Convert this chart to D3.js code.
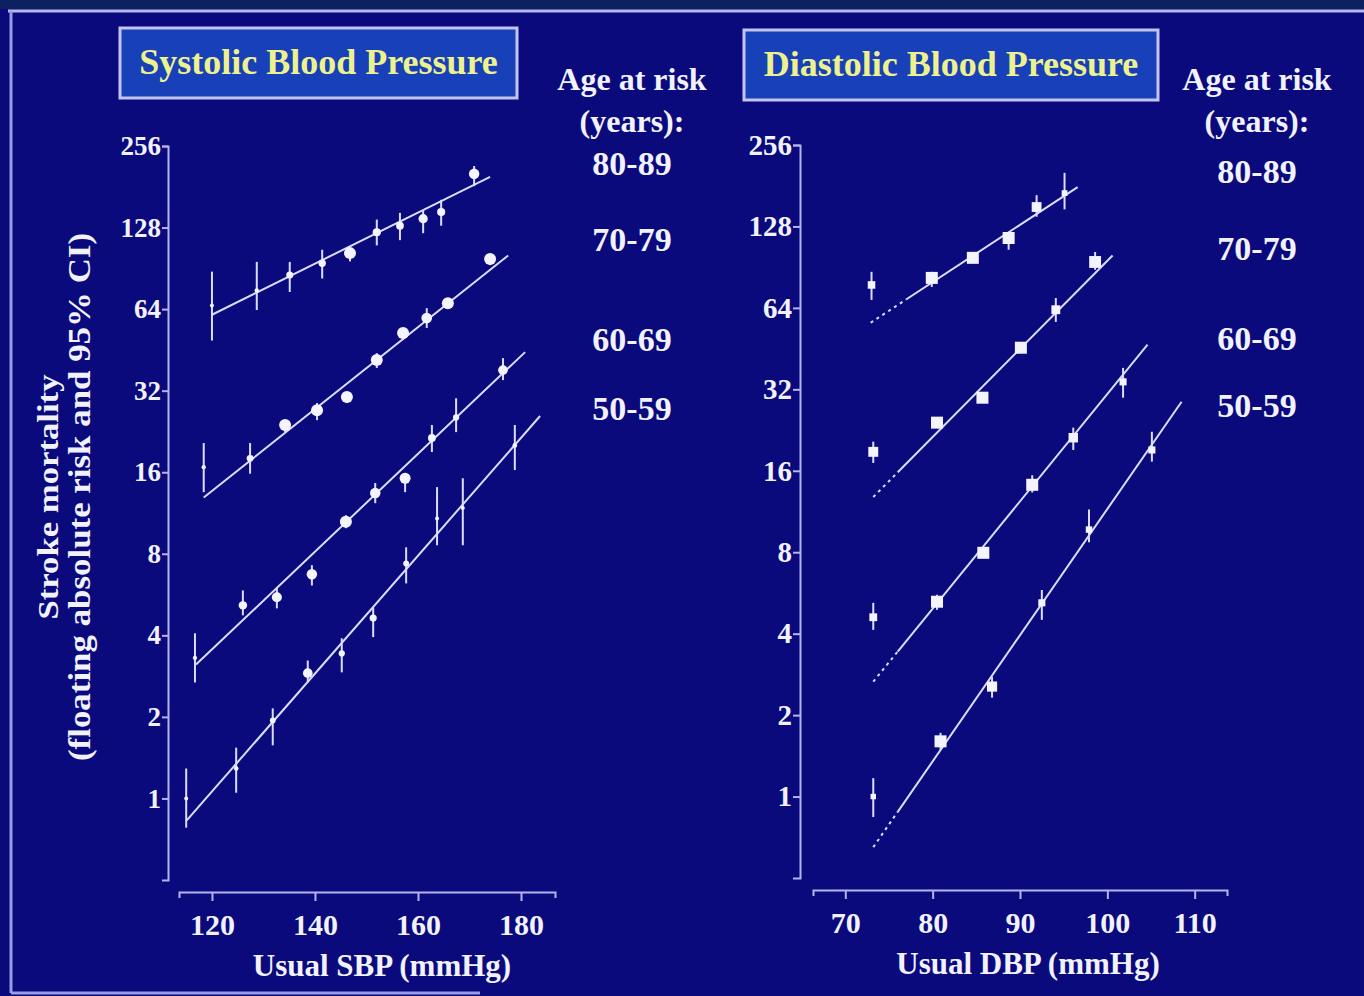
<!DOCTYPE html>
<html>
<head>
<meta charset="utf-8">
<script src="https://cdn.jsdelivr.net/npm/d3@7"></script>
<style>
  html, body { margin: 0; padding: 0; background: #0a0a7c; }
  svg { display: block; }
  .lbl { font-family: "Liberation Serif", "Times New Roman", serif; font-weight: bold; fill: #f2f2ff; }
</style>
</head>
<body>
<div id="chart"></div>
<script>
const riskTicks = [1, 2, 4, 8, 16, 32, 64, 128, 256];
const sbpTicks = [120, 140, 160, 180];
const dbpTicks = [70, 80, 90, 100, 110];
const ageGroups = ["80-89", "70-79", "60-69", "50-59"];

// [usual BP, floating absolute risk, lower 95% CI, upper 95% CI]
const sbp8089 = [[120, 66, 49, 88], [128.7, 75, 63.5, 95.6], [135.1, 85.5, 74, 95.6], [141.4, 94.5, 83, 106],
  [146.8, 103, 96, 108], [152, 123, 110, 137], [156.5, 130, 115, 145], [161, 138, 122, 148],
  [164.5, 146, 130, 162], [170.9, 202, 182, 216]];
const sbp7079 = [[118.4, 16.7, 13.5, 20.5], [127.4, 18.0, 15.8, 20.5], [134.2, 23.9, 22.5, 24.9], [140.4, 27.1, 24.9, 28.8],
  [146.2, 30.3, 28.8, 31.6], [152, 41.5, 38.8, 44.0], [157.1, 52.2, 49.2, 54.5], [161.7, 59.3, 54.5, 64.5],
  [165.8, 67.3, 64.5, 70.2], [174, 98, 93, 101]];
const sbp6069 = [[116.7, 3.3, 2.68, 4.07], [126, 5.16, 4.74, 5.86], [132.6, 5.53, 5.03, 6.02], [139.4, 6.72, 6.11, 7.26],
  [146, 10.5, 9.94, 11.1], [151.7, 13.4, 12.3, 14.6], [157.5, 15.2, 13.5, 15.9], [162.7, 21.4, 19.0, 23.9],
  [167.4, 25.5, 22.5, 30.0], [176.5, 38.1, 35.0, 42.2]];
const sbp5059 = [[115, 1.0, 0.78, 1.29], [124.7, 1.29, 1.05, 1.54], [131.8, 1.94, 1.57, 2.15], [138.6, 2.9, 2.68, 3.23],
  [145.2, 3.43, 2.92, 3.9], [151.3, 4.63, 3.94, 5.07], [157.7, 7.37, 6.22, 8.45], [163.7, 10.8, 8.6, 14.1],
  [168.7, 11.8, 8.6, 15.2], [178.8, 20.1, 16.3, 23.9]];

const dbp8089 = [[73, 77.8, 68.5, 87], [79.9, 82.6, 76.5, 87], [84.6, 98, 94, 102], [88.7, 116, 105, 122],
  [91.9, 151, 139, 167], [95.1, 170, 148, 202]];
const dbp7079 = [[73.2, 18.8, 17.1, 20.5], [80.5, 24.1, 23.3, 24.9], [85.7, 29.8, 28.8, 30.8], [90.1, 45.6, 44.2, 47.0],
  [94.1, 63, 56.8, 69.6], [98.6, 94.6, 88.5, 103]];
const dbp6069 = [[73.2, 4.6, 4.13, 5.2], [80.5, 5.25, 4.9, 5.57], [85.8, 7.96, 7.7, 8.2], [91.4, 14.2, 13.3, 15.4],
  [96.1, 21.2, 19.1, 23.1], [101.8, 34.1, 29.8, 38.4]];
const dbp5059 = [[73.2, 1.0, 0.84, 1.17], [80.9, 1.6, 1.49, 1.72], [86.8, 2.55, 2.32, 2.77], [92.5, 5.2, 4.5, 5.8],
  [97.9, 9.7, 8.7, 11.5], [105.1, 19.1, 17.3, 22.3]];

// fitted lines [x start, risk start, x end, risk end]
const sbpFits = [[120, 61, 174, 197], [118.4, 12.9, 177.5, 101], [116.9, 3.12, 180.8, 44.4], [115.1, 0.83, 183.7, 25.8]];
const dbpFits = [[72.9, 56.4, 96.6, 179], [73.2, 12.8, 100.6, 100], [73.2, 2.66, 104.6, 46.8], [73.2, 0.65, 108.5, 28.8]];
// fitted lines are dotted (extrapolated) below these DBP values
const dbpExtrapolatedTo = [77, 76, 76, 76];

const W = 1364, H = 996;
const ink = "#dcdcff";
const axisInk = "#b4b4f0";
const font = '"Liberation Serif", "Times New Roman", serif';

const svg = d3.select("#chart").append("svg").attr("width", W).attr("height", H);

// slide frame
svg.append("rect").attr("x", 0).attr("y", 0).attr("width", W).attr("height", 9).attr("fill", "#0c2260");
svg.append("line").attr("x1", 8).attr("x2", W).attr("y1", 11).attr("y2", 11)
  .attr("stroke", "#b8b8f0").attr("stroke-width", 3);
svg.append("line").attr("x1", 11).attr("x2", 11).attr("y1", 11).attr("y2", 993)
  .attr("stroke", "#9a9ae6").attr("stroke-width", 3);
svg.append("line").attr("x1", 11).attr("x2", 480).attr("y1", 993).attr("y2", 993)
  .attr("stroke", "#9a9ae6").attr("stroke-width", 3);

function drawPanel(cfg) {
  const x = d3.scaleLinear().domain(cfg.xDomain).range(cfg.xRange);
  const y = d3.scaleLog().base(2).domain([0.5, 256]).range(cfg.yRange);

  // title box
  svg.append("rect")
    .attr("x", cfg.box[0]).attr("y", cfg.box[1]).attr("width", cfg.box[2]).attr("height", cfg.box[3])
    .attr("fill", "#1840b8").attr("stroke", "#c4c4f4").attr("stroke-width", 3);
  svg.append("text")
    .attr("x", cfg.box[0] + cfg.box[2] / 2).attr("y", cfg.box[1] + 46)
    .attr("text-anchor", "middle")
    .style("font-family", font).style("font-weight", "bold").style("font-size", "36px")
    .attr("fill", "#eef28e")
    .text(cfg.title);

  // y axis
  const yAxis = svg.append("g")
    .attr("transform", "translate(" + cfg.yAxisX + ",0)")
    .call(d3.axisLeft(y).tickValues(riskTicks).tickFormat(d3.format("d"))
      .tickSize(cfg.tickLen).tickSizeOuter(cfg.tickLen).tickPadding(1));
  yAxis.selectAll("path, line").attr("stroke", axisInk).attr("stroke-width", 2);
  yAxis.selectAll("text").attr("class", "lbl").attr("fill", "#f2f2ff")
    .style("font-size", cfg.yTickFont).attr("font-family", null);

  // x axis
  const xAxis = svg.append("g")
    .attr("transform", "translate(0," + cfg.xAxisY + ")")
    .call(d3.axisBottom(x).tickValues(cfg.xTicks).tickSize(9).tickSizeOuter(6).tickPadding(13));
  xAxis.selectAll("path, line").attr("stroke", axisInk).attr("stroke-width", 2);
  xAxis.selectAll("text").attr("class", "lbl").attr("fill", "#f2f2ff")
    .style("font-size", "30px").attr("font-family", null);

  svg.append("text").attr("class", "lbl")
    .attr("x", cfg.xTitle[0]).attr("y", cfg.xTitle[1])
    .attr("text-anchor", "middle").style("font-size", "31px")
    .text(cfg.xLabel);

  // fitted lines
  cfg.fits.forEach((f, i) => {
    const [x0, r0, x1, r1] = f;
    let xs = x0, rs = r0;
    if (cfg.dottedTo) {
      xs = cfg.dottedTo[i];
      rs = Math.pow(2, Math.log2(r0) + (Math.log2(r1) - Math.log2(r0)) * (xs - x0) / (x1 - x0));
      svg.append("line")
        .attr("x1", x(x0)).attr("y1", y(r0)).attr("x2", x(xs)).attr("y2", y(rs))
        .attr("stroke", ink).attr("stroke-width", 2).attr("stroke-dasharray", "3,4");
    }
    svg.append("line")
      .attr("x1", x(xs)).attr("y1", y(rs)).attr("x2", x(x1)).attr("y2", y(r1))
      .attr("stroke", ink).attr("stroke-width", 2);
  });

  // points with 95% CI
  cfg.series.forEach(s => {
    const g = svg.append("g");
    g.selectAll("line").data(s).enter().append("line")
      .attr("x1", d => x(d[0])).attr("x2", d => x(d[0]))
      .attr("y1", d => y(d[2])).attr("y2", d => y(d[3]))
      .attr("stroke", ink).attr("stroke-width", 2);
    const size = d => Math.max(2, Math.min(6, 0.9 / Math.log(d[3] / d[2])));
    if (cfg.square) {
      g.selectAll("rect").data(s).enter().append("rect")
        .attr("x", d => x(d[0]) - size(d)).attr("y", d => y(d[1]) - size(d))
        .attr("width", d => 2 * size(d)).attr("height", d => 2 * size(d))
        .attr("fill", "#f4f4ff");
    } else {
      g.selectAll("circle").data(s).enter().append("circle")
        .attr("cx", d => x(d[0])).attr("cy", d => y(d[1]))
        .attr("r", d => size(d))
        .attr("fill", "#f4f4ff");
    }
  });

  // age legend
  const lg = svg.append("g");
  lg.append("text").attr("class", "lbl").attr("x", cfg.legendX).attr("y", 90)
    .attr("text-anchor", "middle").style("font-size", "32px").text("Age at risk");
  lg.append("text").attr("class", "lbl").attr("x", cfg.legendX).attr("y", 132)
    .attr("text-anchor", "middle").style("font-size", "32px").text("(years):");
  ageGroups.forEach((a, i) => {
    lg.append("text").attr("class", "lbl").attr("x", cfg.legendX).attr("y", cfg.legendY[i] + 12)
      .attr("text-anchor", "middle").style("font-size", "34px").text(a);
  });
}

drawPanel({
  title: "Systolic Blood Pressure",
  box: [120, 28, 397, 70],
  xDomain: [113.6, 186.6], xRange: [179, 555],
  yRange: [880, 146],
  yAxisX: 168, xAxisY: 892, tickLen: 6, yTickFont: "27px",
  xTicks: sbpTicks,
  xLabel: "Usual SBP (mmHg)", xTitle: [382, 976],
  fits: sbpFits,
  series: [sbp8089, sbp7079, sbp6069, sbp5059],
  square: false,
  legendX: 632, legendY: [163, 239, 339, 408]
});

drawPanel({
  title: "Diastolic Blood Pressure",
  box: [744, 30, 414, 70],
  xDomain: [66.3, 113.7], xRange: [813, 1227],
  yRange: [878, 145],
  yAxisX: 800, xAxisY: 890, tickLen: 7, yTickFont: "29px",
  xTicks: dbpTicks,
  xLabel: "Usual DBP (mmHg)", xTitle: [1028, 974],
  fits: dbpFits,
  dottedTo: dbpExtrapolatedTo,
  series: [dbp8089, dbp7079, dbp6069, dbp5059],
  square: true,
  legendX: 1257, legendY: [171, 248, 338, 405]
});

// shared y axis title
const yt = svg.append("g").attr("transform", "translate(0,497) rotate(-90)");
yt.append("text").attr("class", "lbl").attr("x", 0).attr("y", 58)
  .attr("text-anchor", "middle").style("font-size", "30px")
  .attr("textLength", 245).attr("lengthAdjust", "spacingAndGlyphs")
  .text("Stroke mortality");
yt.append("text").attr("class", "lbl").attr("x", 0).attr("y", 90)
  .attr("text-anchor", "middle").style("font-size", "31px")
  .attr("textLength", 528).attr("lengthAdjust", "spacingAndGlyphs")
  .text("(floating absolute risk and 95% CI)");
</script>
</body>
</html>
